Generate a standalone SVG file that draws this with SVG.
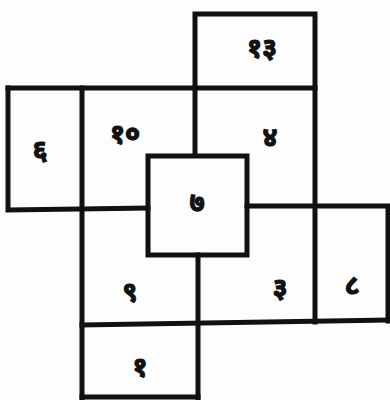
<svg xmlns="http://www.w3.org/2000/svg" width="390" height="400" viewBox="0 0 390 400">
<style>
.ln{fill:none;stroke:#111;stroke-width:5;stroke-linecap:square;stroke-linejoin:miter}
.lb{font-family:"Noto Sans","Noto Sans Devanagari","Lohit Devanagari","DejaVu Sans",sans-serif;font-size:27px;font-weight:bold;fill:#111;stroke:#111;stroke-width:1.2;text-anchor:middle;dominant-baseline:central}
</style>
<rect width="390" height="400" fill="#fdfdfd"/>
<g id="connectors">
<path class="ln" d="M195,88 V14 H315 V322"/>
<path class="ln" d="M8,88 H315"/>
<path class="ln" d="M8,88 V210 L148,208"/>
<path class="ln" d="M82,88 V398"/>
<path class="ln" d="M195,88 V155"/>
<rect class="ln" x="148" y="156" width="99" height="99"/>
<path class="ln" d="M247,206 H388 V321"/>
<path class="ln" d="M82,325 L388,320"/>
<path class="ln" d="M198,255 V400"/>
<path class="ln" d="M82,397 H198"/>
</g>
<g id="c13"><text class="lb" x="262" y="46">१३</text></g>
<g id="c6"><text class="lb" x="40" y="148">६</text></g>
<g id="c10"><text class="lb" x="125" y="132">१०</text></g>
<g id="c4"><text class="lb" x="270" y="135">४</text></g>
<g id="c7"><text class="lb" x="197" y="200">७</text></g>
<g id="c9"><text class="lb" x="130" y="290">९</text></g>
<g id="c3"><text class="lb" x="280" y="286">३</text></g>
<g id="c8"><text class="lb" x="352" y="283">८</text></g>
<g id="c1"><text class="lb" x="140" y="365">१</text></g>
</svg>
